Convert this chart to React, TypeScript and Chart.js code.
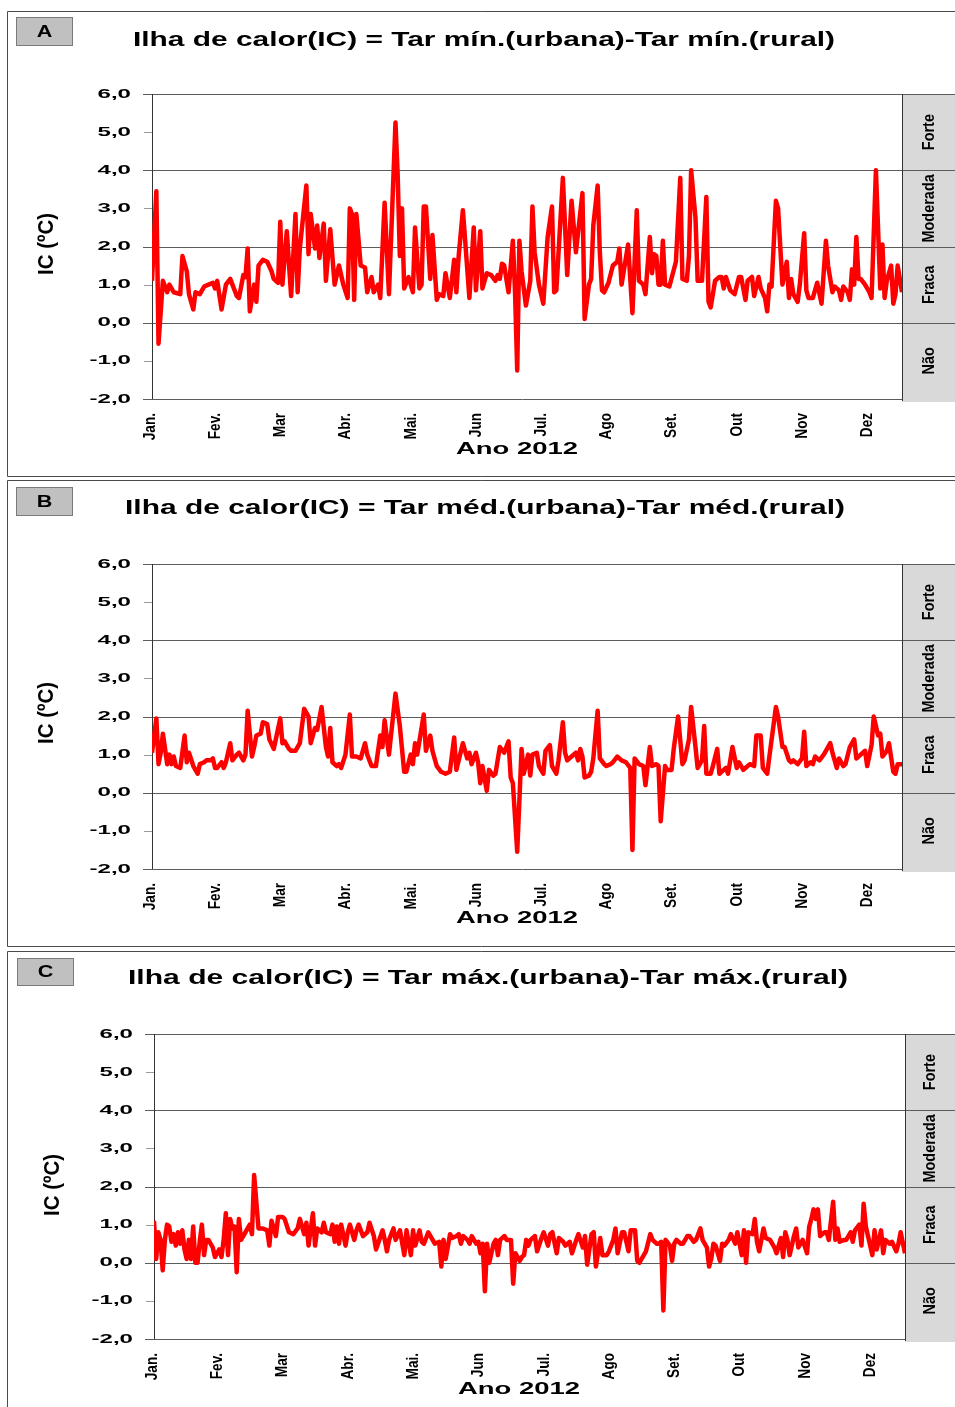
import { useEffect, useRef } from 'react';
import { Chart, registerables } from 'chart.js';
Chart.register(...registerables);

// ---------- data ----------
const MONTHS = ['Jan.', 'Fev.', 'Mar', 'Abr.', 'Mai.', 'Jun', 'Jul.', 'Ago', 'Set.', 'Out', 'Nov', 'Dez'];
const MONTH_TICKS = [0, 30, 60, 90, 120, 150, 180, 210, 240, 270, 300, 330];
const Y_TICKS = [6, 5, 4, 3, 2, 1, 0, -1, -2];
const Y_MAJOR = [6, 4, 2, 0, -2];
const CLASS_LABELS = ['Forte', 'Moderada', 'Fraca', 'Não'];
const CLASS_LIMITS = [6, 4, 2, 0, -2];

// [day, IC]
const IC_MIN: [number, number][] = [[0,1.1],[2,3.45],[3,-0.55],[5,1.1],[7,0.8],[8,1.0],[10,0.8],[13,0.75],[14,1.75],[16,1.35],[17,0.75],[19,0.35],[20,0.8],[22,0.75],[24,0.95],[26,1.0],[28,1.05],[29,0.9],[30,1.1],[32,0.35],[34,1.0],[36,1.15],[37,1.0],[39,0.7],[40,0.65],[42,1.25],[43,1.2],[44,1.95],[45,0.3],[47,1.0],[48,0.55],[49,1.5],[51,1.65],[53,1.6],[55,1.35],[56,1.15],[58,1.05],[59,2.65],[60,1.0],[62,2.4],[64,0.7],[66,2.85],[67,0.8],[68,1.95],[71,3.6],[72,1.8],[73,2.85],[75,1.95],[76,2.55],[77,1.7],[79,2.6],[80,1.1],[82,2.45],[84,1.0],[86,1.5],[88,1.0],[90,0.65],[91,3.0],[92,2.85],[93,0.6],[94,2.85],[96,1.5],[98,1.45],[99,0.8],[101,1.2],[102,0.8],[104,1.0],[105,0.65],[107,3.15],[109,0.75],[112,5.25],[113,3.9],[114,1.75],[115,3.0],[116,0.9],[118,1.2],[120,0.8],[121,2.5],[123,0.9],[124,1.0],[125,3.05],[126,3.05],[128,1.15],[129,2.3],[131,0.6],[132,0.75],[134,0.7],[135,1.3],[137,0.65],[139,1.65],[140,0.8],[141,1.7],[143,2.95],[144,2.2],[146,0.65],[148,2.5],[149,0.85],[151,2.4],[152,0.9],[154,1.3],[156,1.25],[158,1.1],[159,1.25],[160,1.15],[161,1.55],[162,1.5],[164,0.8],[166,2.15],[167,0.8],[168,-1.25],[169,2.15],[170,1.35],[172,0.45],[174,1.1],[175,3.05],[176,1.85],[178,1.0],[180,0.5],[182,2.25],[184,3.05],[185,0.8],[186,0.85],[189,3.8],[191,1.25],[193,3.2],[195,1.85],[198,3.4],[199,0.1],[201,1.0],[202,1.15],[203,2.55],[205,3.6],[206,1.85],[207,0.85],[208,0.8],[210,1.05],[212,1.5],[214,1.6],[215,1.95],[216,1.0],[219,2.05],[221,0.25],[223,2.95],[224,1.1],[226,1.0],[227,0.75],[229,2.25],[230,1.3],[231,1.8],[232,1.75],[233,1.0],[234,1.0],[235,2.15],[236,1.0],[238,0.95],[241,1.6],[243,3.8],[244,1.15],[246,1.1],[247,1.75],[248,4.0],[250,2.75],[251,1.1],[253,1.1],[255,3.3],[256,0.55],[257,0.4],[259,1.1],[261,1.2],[262,1.2],[263,0.9],[264,1.2],[266,0.85],[268,0.75],[270,1.2],[271,1.2],[273,0.6],[274,1.1],[276,1.2],[277,0.7],[279,1.2],[280,0.9],[282,0.65],[283,0.3],[284,1.0],[285,0.95],[287,3.2],[288,3.0],[290,1.0],[292,1.6],[293,0.65],[294,1.15],[295,0.75],[297,0.55],[298,1.0],[300,2.35],[301,0.85],[302,0.65],[304,0.65],[306,1.05],[308,0.5],[310,2.15],[311,1.5],[313,0.8],[314,0.95],[316,0.85],[317,0.6],[318,0.95],[320,0.8],[321,0.6],[322,1.4],[323,1.0],[324,2.25],[325,1.15],[326,1.15],[328,1.0],[330,0.8],[331,0.65],[333,4.0],[335,0.9],[336,2.05],[337,0.65],[338,1.1],[340,1.5],[341,0.5],[342,0.75],[343,1.5],[345,0.8]];

const IC_MED: [number, number][] = [[0,1.05],[2,1.95],[3,0.75],[4,1.05],[5,1.55],[7,0.75],[8,1.0],[9,0.75],[10,0.95],[11,0.7],[13,0.65],[15,1.5],[16,0.8],[17,1.05],[19,0.7],[21,0.5],[22,0.75],[24,0.8],[25,0.85],[27,0.85],[28,0.9],[29,0.65],[30,0.65],[32,0.8],[33,0.65],[34,0.8],[36,1.3],[37,0.85],[39,1.0],[40,1.05],[42,0.85],[43,1.0],[44,2.15],[46,0.95],[47,1.2],[48,1.5],[50,1.55],[51,1.85],[53,1.8],[54,1.4],[56,1.15],[59,1.95],[60,1.3],[61,1.35],[63,1.15],[64,1.1],[66,1.1],[68,1.3],[70,2.2],[72,2.0],[73,1.3],[75,1.7],[76,1.65],[78,2.25],[80,1.2],[81,0.95],[82,1.7],[83,0.8],[85,0.7],[86,0.75],[87,0.65],[89,1.0],[91,2.05],[92,0.95],[94,0.95],[96,0.9],[98,1.3],[99,1.0],[101,0.7],[103,0.7],[105,1.5],[106,1.2],[107,1.9],[109,1.0],[112,2.6],[114,1.75],[116,0.55],[117,0.55],[119,1.0],[120,0.75],[121,1.3],[122,1.0],[125,2.05],[126,1.1],[128,1.5],[129,1.1],[131,0.7],[133,0.55],[135,0.5],[137,0.55],[139,1.45],[140,0.6],[143,1.3],[145,0.9],[146,1.05],[147,0.75],[149,1.05],[150,0.8],[151,0.25],[152,0.7],[154,0.05],[155,0.6],[157,0.45],[158,0.5],[160,1.2],[162,1.05],[164,1.35],[165,0.4],[166,0.25],[168,-1.55],[170,1.15],[171,0.5],[173,1.0],[174,0.45],[175,1.0],[177,1.05],[178,0.7],[180,0.5],[181,1.1],[183,1.25],[184,0.7],[186,0.5],[187,0.85],[189,1.85],[190,1.05],[191,0.85],[193,0.95],[195,1.05],[196,0.85],[197,1.15],[198,0.95],[199,0.4],[201,0.45],[202,0.55],[203,0.9],[205,2.15],[206,0.9],[208,0.75],[209,0.7],[211,0.75],[212,0.8],[214,0.95],[216,0.85],[218,0.8],[220,0.65],[221,-1.5],[222,0.9],[224,0.75],[226,0.7],[227,0.2],[229,1.2],[230,0.7],[232,0.75],[233,0.7],[234,-0.75],[236,0.7],[237,0.6],[239,0.6],[240,1.15],[242,2.0],[244,0.75],[245,0.85],[247,1.4],[248,2.25],[250,1.2],[251,0.65],[253,0.85],[254,1.75],[255,0.5],[257,0.5],[258,0.7],[260,1.15],[261,0.5],[263,0.6],[264,0.65],[265,0.5],[267,1.2],[269,0.65],[270,0.8],[272,0.6],[273,0.65],[275,0.75],[277,0.7],[278,1.5],[280,1.5],[281,0.65],[283,0.5],[284,0.95],[287,2.25],[288,2.0],[290,1.2],[291,1.2],[293,0.85],[294,0.8],[295,0.85],[297,0.75],[299,0.9],[300,1.6],[301,0.7],[303,0.8],[304,0.75],[305,0.95],[307,0.85],[309,1.0],[310,1.1],[312,1.3],[313,1.05],[315,0.65],[316,0.9],[318,0.7],[319,0.75],[321,1.2],[323,1.4],[324,0.9],[325,0.95],[326,1.0],[328,1.1],[329,0.7],[331,1.25],[332,2.0],[334,1.5],[335,1.55],[336,0.95],[338,1.1],[339,1.3],[341,0.55],[342,0.5],[343,0.75],[345,0.75]];

const IC_MAX: [number, number][] = [[0,1.1],[1,0.1],[2,0.8],[3,0.6],[4,-0.2],[5,0.6],[6,1.0],[7,0.95],[8,0.55],[9,0.75],[10,0.45],[11,0.8],[12,0.5],[13,0.85],[14,0.35],[15,0.1],[16,0.6],[17,0.1],[18,0.95],[19,0.0],[20,0.0],[21,0.55],[22,1.0],[23,0.2],[24,0.6],[25,0.6],[27,0.4],[28,0.15],[30,0.35],[31,0.15],[32,0.6],[33,1.3],[34,0.2],[35,1.15],[36,0.9],[37,0.95],[38,-0.25],[39,1.15],[40,0.6],[41,0.7],[43,0.9],[44,1.0],[45,0.75],[46,2.3],[48,0.9],[49,0.9],[50,0.9],[52,0.85],[53,0.45],[54,1.1],[56,0.7],[57,1.2],[59,1.2],[60,1.15],[62,0.8],[64,0.75],[66,0.9],[67,1.15],[69,0.75],[70,1.05],[71,0.45],[73,1.3],[74,0.45],[75,0.9],[77,0.8],[78,1.05],[79,0.8],[81,0.75],[82,1.0],[83,0.55],[84,0.95],[85,0.5],[86,1.0],[88,0.45],[89,0.8],[90,1.0],[92,0.6],[93,0.85],[94,1.0],[96,0.7],[98,0.8],[99,1.05],[101,0.7],[102,0.35],[105,0.85],[106,0.6],[107,0.3],[108,0.6],[110,0.9],[111,0.6],[113,0.85],[115,0.2],[116,0.85],[118,0.2],[119,0.85],[120,0.45],[122,0.85],[123,0.55],[124,0.5],[126,0.8],[128,0.6],[129,0.5],[131,0.55],[132,-0.1],[133,0.6],[134,0.1],[136,0.75],[137,0.65],[139,0.7],[140,0.75],[141,0.5],[142,0.7],[144,0.6],[145,0.5],[146,0.7],[148,0.5],[149,0.55],[150,0.25],[151,0.5],[152,-0.75],[153,0.5],[154,0.0],[156,0.5],[157,0.6],[158,0.2],[159,0.6],[161,0.7],[162,0.6],[164,0.6],[165,-0.55],[166,0.25],[168,0.05],[169,0.15],[170,0.2],[171,0.6],[172,0.45],[173,0.6],[175,0.7],[176,0.3],[178,0.65],[179,0.8],[181,0.45],[182,0.75],[183,0.8],[185,0.25],[186,0.65],[188,0.55],[189,0.45],[191,0.55],[192,0.25],[194,0.6],[195,0.75],[197,0.4],[198,0.7],[199,-0.05],[201,0.75],[202,0.8],[203,-0.1],[205,0.65],[206,0.2],[208,0.2],[209,0.3],[211,0.6],[212,0.9],[213,0.25],[215,0.8],[216,0.8],[218,0.3],[219,0.85],[221,0.85],[222,0.05],[223,0.0],[225,0.2],[226,0.3],[228,0.75],[229,0.6],[231,0.5],[232,0.5],[233,0.55],[234,-1.25],[235,0.6],[237,0.45],[238,0.05],[239,0.5],[240,0.6],[242,0.5],[243,0.5],[245,0.7],[246,0.7],[248,0.55],[249,0.6],[251,0.9],[252,0.6],[254,0.4],[255,-0.1],[256,0.1],[257,0.5],[258,0.45],[260,0.05],[261,0.5],[262,0.45],[264,0.6],[265,0.75],[267,0.5],[268,0.8],[270,0.2],[271,0.85],[272,0.0],[273,0.8],[275,0.75],[276,1.15],[277,0.55],[278,0.3],[280,0.9],[281,0.65],[283,0.6],[284,0.5],[285,0.4],[286,0.25],[288,0.65],[289,0.15],[290,0.8],[291,0.6],[292,0.2],[294,0.7],[295,0.9],[296,0.4],[298,0.6],[300,0.25],[301,0.95],[302,1.15],[303,1.4],[304,1.15],[305,1.4],[306,0.7],[308,0.8],[309,0.8],[310,0.6],[312,1.6],[313,0.6],[314,0.9],[315,0.55],[317,0.6],[318,0.6],[320,0.8],[321,0.55],[322,0.85],[324,1.0],[325,0.45],[326,1.55],[327,0.95],[329,0.45],[330,0.2],[331,0.85],[332,0.35],[334,0.85],[335,0.25],[336,0.6],[338,0.5],[339,0.55],[341,0.3],[342,0.5],[343,0.8],[345,0.25]];

// ---------- layout / style ----------
const FONT = '"Liberation Sans", Arial, Helvetica, sans-serif';
const GRID = '#5c5c5c';
const BAND_FILL = '#d9d9d9';
const RED = '#ff0000';

const PANELS = [
  { key: 'A', title: 'Ilha de calor(IC) = Tar mín.(urbana)-Tar mín.(rural)', data: IC_MIN,
    top: 0, height: 478, pad: { left: 152, top: 94, right: 53, bottom: 79 },
    frameTop: 11.5, frameBottom: 476.5, box: { x: 16.5, y: 17.5, w: 56, h: 28 },
    titleX: 484, titleY: 46, titleW: 702, yTitleX: 47, yTitleY: 244, anoX: 517, anoY: 454, xLabY: 413, bandX: 929 },
  { key: 'B', title: 'Ilha de calor(IC) = Tar méd.(urbana)-Tar méd.(rural)', data: IC_MED,
    top: 478, height: 471, pad: { left: 152, top: 86, right: 53, bottom: 80 },
    frameTop: 2.5, frameBottom: 468.5, box: { x: 16.5, y: 9.5, w: 56, h: 28 },
    titleX: 485, titleY: 36, titleW: 720, yTitleX: 47, yTitleY: 235, anoX: 517, anoY: 445, xLabY: 405, bandX: 929 },
  { key: 'C', title: 'Ilha de calor(IC) = Tar máx.(urbana)-Tar máx.(rural)', data: IC_MAX,
    top: 949, height: 458, pad: { left: 154, top: 85, right: 50, bottom: 68 },
    frameTop: 2.5, frameBottom: 470, box: { x: 17.5, y: 9.5, w: 56, h: 27 },
    titleX: 488, titleY: 35, titleW: 720, yTitleX: 53, yTitleY: 236, anoX: 519, anoY: 445, xLabY: 404, bandX: 930 },
];

type TextOpt = { size: number; weight?: string; sx?: number; width?: number; rot?: number; align?: CanvasTextAlign; baseline?: CanvasTextBaseline; color?: string };

function drawText(ctx: CanvasRenderingContext2D, s: string, x: number, y: number, o: TextOpt) {
  ctx.save();
  ctx.font = `${o.weight ?? 'bold'} ${o.size}px ${FONT}`;
  let sx = o.sx ?? 1;
  if (o.width) sx = o.width / ctx.measureText(s).width;
  ctx.translate(x, y);
  if (o.rot) ctx.rotate(o.rot);
  ctx.scale(sx, 1);
  ctx.textAlign = o.align ?? 'left';
  ctx.textBaseline = o.baseline ?? 'alphabetic';
  ctx.fillStyle = o.color ?? '#000';
  ctx.fillText(s, 0, 0);
  ctx.restore();
}

function makePlugin(p: any) {
  return {
    id: 'decor' + p.key,
    beforeDatasetsDraw(chart: any) {
      const { ctx, chartArea: a, scales } = chart;
      const y = scales.y;
      const W = chart.width;
      const yTop = y.getPixelForValue(6);
      const yBot = y.getPixelForValue(-2);
      ctx.save();
      // frame
      ctx.strokeStyle = '#4a4a4a';
      ctx.lineWidth = 1;
      ctx.beginPath();
      ctx.moveTo(W, p.frameTop); ctx.lineTo(7.5, p.frameTop); ctx.lineTo(7.5, p.frameBottom); ctx.lineTo(W, p.frameBottom);
      ctx.stroke();
      // class band
      ctx.fillStyle = BAND_FILL;
      ctx.fillRect(a.right, yTop, W - a.right, yBot - yTop + 3);
      // horizontal grid lines
      ctx.strokeStyle = GRID;
      for (const v of Y_MAJOR) {
        const py = Math.round(y.getPixelForValue(v)) + 0.5;
        ctx.beginPath();
        ctx.moveTo(a.left - 9, py);
        ctx.lineTo(v === -2 ? a.right : W, py);
        ctx.stroke();
      }
      // minor ticks
      ctx.strokeStyle = '#9a9a9a';
      for (const v of Y_TICKS) {
        if (Y_MAJOR.includes(v)) continue;
        const py = Math.round(y.getPixelForValue(v)) + 0.5;
        ctx.beginPath(); ctx.moveTo(a.left - 8, py); ctx.lineTo(a.left, py); ctx.stroke();
      }
      // verticals
      ctx.strokeStyle = '#333';
      ctx.beginPath();
      ctx.moveTo(Math.round(a.left) + 0.5, yTop); ctx.lineTo(Math.round(a.left) + 0.5, yBot);
      ctx.moveTo(Math.round(a.right) + 0.5, yTop); ctx.lineTo(Math.round(a.right) + 0.5, yBot + 2);
      ctx.stroke();
      ctx.restore();
    },
    afterDraw(chart: any) {
      const { ctx, chartArea: a, scales } = chart;
      const x = scales.x, y = scales.y;
      ctx.save();
      // panel letter box
      ctx.fillStyle = '#c0c0c0';
      ctx.strokeStyle = '#7a7a7a';
      ctx.fillRect(p.box.x, p.box.y, p.box.w, p.box.h);
      ctx.strokeRect(p.box.x, p.box.y, p.box.w, p.box.h);
      drawText(ctx, p.key, p.box.x + p.box.w / 2, p.box.y + p.box.h / 2 + 1, { size: 16, sx: 1.35, align: 'center', baseline: 'middle' });
      // title
      drawText(ctx, p.title, p.titleX, p.titleY, { size: 21, width: p.titleW, align: 'center' });
      // y tick labels
      for (const v of Y_TICKS) {
        const s = v.toFixed(1).replace('.', ',');
        drawText(ctx, s, a.left - 21, y.getPixelForValue(v), { size: 13, sx: 1.85, align: 'right', baseline: 'middle' });
      }
      // y title
      drawText(ctx, 'IC (ºC)', p.yTitleX, p.yTitleY, { size: 22, weight: 'bold', width: 62, rot: -Math.PI / 2, align: 'center', baseline: 'middle' });
      // class labels
      for (let i = 0; i < CLASS_LABELS.length; i++) {
        const cy = (y.getPixelForValue(CLASS_LIMITS[i]) + y.getPixelForValue(CLASS_LIMITS[i + 1])) / 2;
        drawText(ctx, CLASS_LABELS[i], p.bandX, cy, { size: 17, sx: 0.85, rot: -Math.PI / 2, align: 'center', baseline: 'middle' });
      }
      // month labels
      for (let i = 0; i < MONTHS.length; i++) {
        const px = x.getPixelForValue(MONTH_TICKS[i]) - 2;
        drawText(ctx, MONTHS[i], px, p.xLabY, { size: 17, sx: 0.8, rot: -Math.PI / 2, align: 'right', baseline: 'middle' });
      }
      // x title
      drawText(ctx, 'Ano 2012', p.anoX, p.anoY, { size: 17, width: 122, align: 'center' });
      ctx.restore();
    },
  };
}

function Panel({ p }: { p: any }) {
  const ref = useRef<HTMLCanvasElement | null>(null);
  useEffect(() => {
    const chart = new Chart(ref.current as HTMLCanvasElement, {
      type: 'line',
      data: {
        datasets: [{
          data: p.data.map(([d, v]: [number, number]) => ({ x: d, y: v })),
          borderColor: RED,
          backgroundColor: RED,
          borderWidth: 4.5,
          borderJoinStyle: 'round',
          pointRadius: 0,
          tension: 0,
          fill: false,
        }],
      },
      options: {
        animation: false,
        responsive: false,
        maintainAspectRatio: false,
        layout: { padding: p.pad },
        plugins: { legend: { display: false }, tooltip: { enabled: false }, title: { display: false } },
        scales: {
          x: { type: 'linear', display: false, min: 0, max: 345 },
          y: { type: 'linear', display: false, min: -2, max: 6 },
        },
      },
      plugins: [makePlugin(p)],
    } as any);
    return () => chart.destroy();
  }, [p]);
  return (
    <canvas ref={ref} width={955} height={p.height}
      style={{ position: 'absolute', left: 0, top: p.top, width: 955, height: p.height, display: 'block' }} />
  );
}

export default function App() {
  return (
    <div style={{ position: 'absolute', left: 0, top: 0, width: 955, height: 1407, background: '#fff', overflow: 'hidden' }}>
      {PANELS.map((p) => <Panel key={p.key} p={p} />)}
    </div>
  );
}
